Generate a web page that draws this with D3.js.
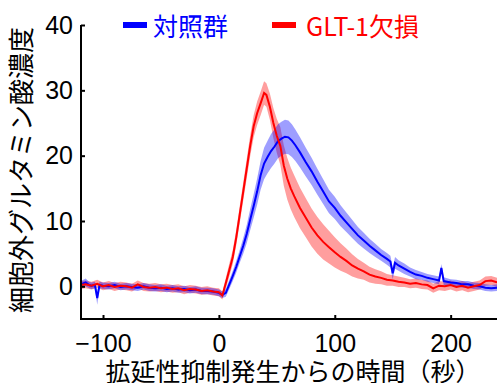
<!DOCTYPE html>
<html><head><meta charset="utf-8">
<script src="https://cdn.jsdelivr.net/npm/d3@7"></script>
<style>body{margin:0;background:#fff}svg{display:block}</style>
</head><body><svg id="c" width="497" height="383"></svg>
<script>
const xTicks = [-100, 0, 100, 200];
const yTicks = [0, 10, 20, 30, 40];
const seriesNames = ["対照群", "GLT-1欠損"];
const xLabel = "拡延性抑制発生からの時間（秒）";
const yLabel = "細胞外グルタミン酸濃度";

const blueTime = [-119,-115,-112,-110,-107,-105,-103,-100,-95,-90,-85,-80,-75,-70,-65,-60,-55,-50,-45,-40,-35,-30,-25,-20,-15,-10,-5,0,3,6,9,12,15,18,21,24,27,30,33,36,39,42,45,48,51,54,57,60,63,66,70,75,80,85,90,95,100,105,110,115,120,125,130,135,140,145,148,150,152,155,160,165,170,175,180,185,190,192,194,200,205,210,215,220,225,230,235,240];
const blueMean = [0.3,0.6,0.2,0.1,0.2,-1.8,0.2,0.1,0.0,0.2,-0.1,0.0,-0.1,-0.2,0.0,-0.2,-0.3,-0.2,-0.4,-0.3,-0.5,-0.4,-0.6,-0.5,-0.7,-0.7,-0.8,-1.0,-1.3,-1.0,0.3,1.6,3.0,4.6,6.2,8.0,10.2,12.3,14.5,17.0,18.8,19.8,20.7,21.4,22.2,22.6,22.9,22.8,22.3,21.6,20.5,19.0,17.6,16.0,14.5,13.0,12.0,10.8,9.8,8.8,7.8,7.0,6.2,5.5,4.8,4.2,3.8,2.0,3.6,3.2,2.7,2.2,1.8,1.6,1.3,1.1,0.9,2.8,0.8,0.6,0.5,0.3,0.3,0.1,0.0,-0.2,-0.3,-0.2];
const blueBand = [0.5,0.6,0.5,0.5,0.5,1.0,0.5,0.5,0.5,0.5,0.5,0.5,0.5,0.5,0.5,0.5,0.5,0.5,0.5,0.5,0.5,0.5,0.5,0.5,0.5,0.5,0.5,0.5,0.5,0.6,0.7,0.8,0.9,1.0,1.2,1.4,1.6,1.8,2.0,2.2,2.4,2.5,2.6,2.6,2.6,2.6,2.6,2.6,2.5,2.4,2.3,2.2,2.1,2.0,1.9,1.8,1.7,1.6,1.5,1.4,1.3,1.2,1.1,1.0,0.9,0.9,0.9,0.9,0.9,0.8,0.8,0.7,0.7,0.6,0.6,0.6,0.6,0.6,0.6,0.5,0.5,0.5,0.5,0.5,0.5,0.5,0.5,0.5];

const redTime = [-119,-115,-110,-105,-100,-95,-90,-85,-80,-75,-70,-65,-60,-55,-50,-45,-40,-35,-30,-25,-20,-15,-10,-5,0,3,6,9,12,15,18,21,24,27,30,33,36,39,41,44,47,50,53,56,59,62,65,70,75,80,85,90,95,100,105,110,115,120,125,130,135,140,145,150,155,160,165,170,175,180,185,190,195,200,205,210,215,220,225,230,235,240];
const redMean = [0.2,0.3,0.1,0.4,0.0,0.2,-0.1,0.1,0.0,-0.2,0.3,-0.1,-0.2,-0.1,-0.3,-0.2,-0.4,-0.3,-0.6,-0.4,-0.5,-0.7,-0.6,-0.8,-0.9,-1.4,0.5,2.5,4.5,7.5,11.0,14.5,18.0,21.5,24.5,26.5,28.0,29.6,29.3,27.5,25.0,23.0,21.5,18.5,16.5,15.0,13.8,12.0,10.5,9.0,7.8,6.8,6.0,5.2,4.5,3.9,3.2,2.7,2.3,1.8,1.5,1.3,1.0,0.9,0.7,0.6,0.4,0.5,0.3,0.2,-0.3,0.1,0.0,0.2,-0.1,0.1,-0.2,0.0,0.2,0.8,0.9,0.6];
const redBand = [0.6,0.6,0.6,0.6,0.6,0.6,0.6,0.6,0.6,0.6,0.6,0.6,0.6,0.6,0.6,0.6,0.6,0.6,0.6,0.6,0.6,0.6,0.6,0.6,0.6,0.6,0.8,1.0,1.1,1.2,1.3,1.4,1.5,1.6,1.7,1.8,1.8,1.8,1.8,2.0,2.3,2.6,2.9,3.1,3.2,3.2,3.2,3.1,3.0,2.9,2.8,2.7,2.5,2.3,2.1,1.9,1.7,1.5,1.3,1.2,1.1,1.0,0.9,0.8,0.8,0.7,0.7,0.7,0.7,0.7,0.7,0.7,0.7,0.7,0.7,0.7,0.7,0.7,0.7,0.7,0.7,0.7];

const svg = d3.select("#c");
const L = 81, R = 497, T = 25, B = 319;
const x = d3.scaleLinear().domain([-119, 240]).range([L, R]);
const y = d3.scaleLinear().domain([-5, 40]).range([B, T]);

svg.append("defs").append("clipPath").attr("id","clip")
  .append("rect").attr("x",L).attr("y",T-10).attr("width",R-L).attr("height",B-T+10);
const g = svg.append("g").attr("clip-path","url(#clip)");

function mk(t, m, b){ return t.map((v,i)=>({t:v, m:m[i], b:b[i]})); }
const blue = mk(blueTime, blueMean, blueBand);
const red = mk(redTime, redMean, redBand);

const area = d3.area().x(d=>x(d.t)).y0(d=>y(d.m-d.b)).y1(d=>y(d.m+d.b));
const line = d3.line().x(d=>x(d.t)).y(d=>y(d.m));

g.append("path").datum(red).attr("d",area).attr("fill","#ff0000").attr("fill-opacity",0.38);
g.append("path").datum(blue).attr("d",area).attr("fill","#0000ff").attr("fill-opacity",0.38);
g.append("path").datum(blue).attr("d",line).attr("fill","none").attr("stroke","#0000ff").attr("stroke-width",2);
g.append("path").datum(red).attr("d",line).attr("fill","none").attr("stroke","#ff0000").attr("stroke-width",2);

const font = "'Liberation Sans', Arial, sans-serif";
const yAx = svg.append("g").attr("transform",`translate(${L},0)`)
  .call(d3.axisLeft(y).tickValues(yTicks).tickSizeInner(-4).tickSizeOuter(0).tickPadding(8));
yAx.select(".domain").attr("d",`M0,${T}V${B}`).attr("stroke","#000").attr("stroke-width",2);
const xAx = svg.append("g").attr("transform",`translate(0,${B})`)
  .call(d3.axisBottom(x).tickValues(xTicks).tickSizeInner(-4).tickSizeOuter(0).tickPadding(15));
xAx.select(".domain").attr("d",`M${L-1},0H${R}`).attr("stroke","#000").attr("stroke-width",2);
svg.selectAll(".tick line").attr("stroke","#000").attr("stroke-width",2);
svg.selectAll(".tick text").attr("font-family",font).attr("font-size",25).attr("fill","#000");

const cjk = "'Noto Sans CJK JP', 'Noto Sans', sans-serif";
svg.append("text").attr("x",293).attr("y",381).attr("text-anchor","middle")
  .attr("font-family",cjk).attr("font-size",25).attr("fill","#000").text(xLabel);
svg.append("text").attr("transform","translate(31,170) rotate(-90)").attr("text-anchor","middle")
  .attr("font-family",cjk).attr("font-size",26).attr("fill","#000").text(yLabel);

// legend
const leg = [
  {name: seriesNames[0], color:"#0000ff", x1:123, tx:153},
  {name: seriesNames[1], color:"#ff0000", x1:272, tx:306}
];
leg.forEach(d=>{
  svg.append("rect").attr("x",d.x1).attr("y",22).attr("width",24).attr("height",6).attr("fill",d.color);
  svg.append("text").attr("x",d.tx).attr("y",25).attr("dominant-baseline","central")
    .attr("font-family",cjk).attr("font-size",25).attr("fill",d.color).text(d.name);
});
</script></body></html>
